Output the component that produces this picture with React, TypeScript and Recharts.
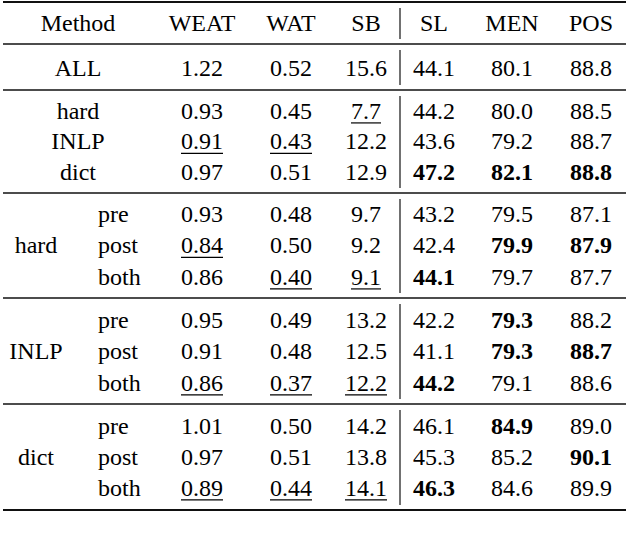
import { ScatterChart, Scatter, XAxis, YAxis, ReferenceLine } from "recharts";

// table content
const headers = ["WEAT", "WAT", "SB", "SL", "MEN", "POS"];
const decimals = [2, 2, 1, 1, 1, 1];
const methods = ["hard", "INLP", "dict"];
const stages = ["pre", "post", "both"];

const allValues = [1.22, 0.52, 15.6, 44.1, 80.1, 88.8];

const singleValues = [
  [0.93, 0.45, 7.7, 44.2, 80.0, 88.5],
  [0.91, 0.43, 12.2, 43.6, 79.2, 88.7],
  [0.97, 0.51, 12.9, 47.2, 82.1, 88.8],
];
const singleMarks = ["--u---", "uu----", "---bbb"];

const hardValues = [
  [0.93, 0.48, 9.7, 43.2, 79.5, 87.1],
  [0.84, 0.5, 9.2, 42.4, 79.9, 87.9],
  [0.86, 0.4, 9.1, 44.1, 79.7, 87.7],
];
const hardMarks = ["------", "u---bb", "-uub--"];

const inlpValues = [
  [0.95, 0.49, 13.2, 42.2, 79.3, 88.2],
  [0.91, 0.48, 12.5, 41.1, 79.3, 88.7],
  [0.86, 0.37, 12.2, 44.2, 79.1, 88.6],
];
const inlpMarks = ["----b-", "----bb", "uuub--"];

const dictValues = [
  [1.01, 0.5, 14.2, 46.1, 84.9, 89.0],
  [0.97, 0.51, 13.8, 45.3, 85.2, 90.1],
  [0.89, 0.44, 14.1, 46.3, 84.6, 89.9],
];
const dictMarks = ["----b-", "-----b", "uuub--"];

// layout
const W = 640;
const H = 537;
const FS = 24;
const colX = [202, 291, 366, 434, 512, 591];
const methodX = 78;
const groupX = 36;
const stageX = 98;
const headerY = 23;
const allY = 68;
const blockY = [
  [111, 141.5, 172],
  [214, 245.5, 277],
  [320, 351.5, 383],
  [426, 457, 488],
];
const rules = [2, 44, 90, 193, 298, 404, 510];
const ruleLeft = 3;
const ruleRight = 626;
const vLineX = 400;

const fmt = (v: number, d: number) => v.toFixed(d);

const cells: any[] = [];
cells.push({ x: methodX, y: headerY, t: "Method" });
headers.forEach((h, i) => cells.push({ x: colX[i], y: headerY, t: h }));

const pushRow = (vals: number[], marks: string, y: number) => {
  vals.forEach((v, i) =>
    cells.push({
      x: colX[i],
      y,
      t: fmt(v, decimals[i]),
      bold: marks[i] === "b",
      under: marks[i] === "u",
    })
  );
};

cells.push({ x: methodX, y: allY, t: "ALL" });
pushRow(allValues, "------", allY);

methods.forEach((m, r) => {
  cells.push({ x: methodX, y: blockY[0][r], t: m });
  pushRow(singleValues[r], singleMarks[r], blockY[0][r]);
});

const groups = [
  { vals: hardValues, marks: hardMarks },
  { vals: inlpValues, marks: inlpMarks },
  { vals: dictValues, marks: dictMarks },
];
groups.forEach((g, gi) => {
  const ys = blockY[gi + 1];
  cells.push({ x: groupX, y: ys[1], t: methods[gi] });
  stages.forEach((s, r) => {
    cells.push({ x: stageX, y: ys[r], t: s, start: true });
    pushRow(g.vals[r], g.marks[r], ys[r]);
  });
});

const textWidth = (t: string) => {
  let w = 0;
  for (const c of t) w += c === "." ? 0.25 : 0.5;
  return w * FS;
};

const S = (props: any) => {
  const { cx, cy, payload } = props;
  const base = cy + FS * 0.33;
  const w = textWidth(payload.t);
  return (
    <g>
      <text
        className="cell-text"
        x={cx}
        y={base}
        textAnchor={payload.start ? "start" : "middle"}
        fontFamily="Liberation Serif"
        fontSize={FS}
        fontWeight={payload.bold ? "bold" : undefined}
      >
        {payload.t}
      </text>
      {payload.under && (
        <line x1={cx - w / 2} x2={cx + w / 2} y1={base + 4} y2={base + 4} stroke="#000" strokeWidth={1.2} />
      )}
    </g>
  );
};

export default function App() {
  return (
    <div style={{ position: "absolute", left: 0, top: 0, background: "#fff" }}>
      <style>{".cell-text{font-family:'Liberation Serif','Times New Roman',serif !important;}"}</style>
      <ScatterChart width={W} height={H} margin={{ top: 0, right: 0, bottom: 0, left: 0 }}>
        <XAxis type="number" dataKey="x" domain={[0, W]} hide />
        <YAxis type="number" dataKey="y" domain={[0, H]} reversed hide width={0} />
        {rules.map((y, i) => (
          <ReferenceLine
            key={"h" + i}
            segment={[
              { x: ruleLeft, y },
              { x: ruleRight, y },
            ]}
            stroke="#111"
            strokeWidth={i === 0 || i === rules.length - 1 ? 2.2 : 1.3}
            ifOverflow="visible"
          />
        ))}
        {rules.slice(0, -1).map((y, i) => (
          <ReferenceLine
            key={"v" + i}
            segment={[
              { x: vLineX, y: y + 6 },
              { x: vLineX, y: rules[i + 1] - 5 },
            ]}
            stroke="#111"
            strokeWidth={1.2}
            ifOverflow="visible"
          />
        ))}
        <Scatter data={cells} shape={<S />} isAnimationActive={false} />
      </ScatterChart>
    </div>
  );
}
